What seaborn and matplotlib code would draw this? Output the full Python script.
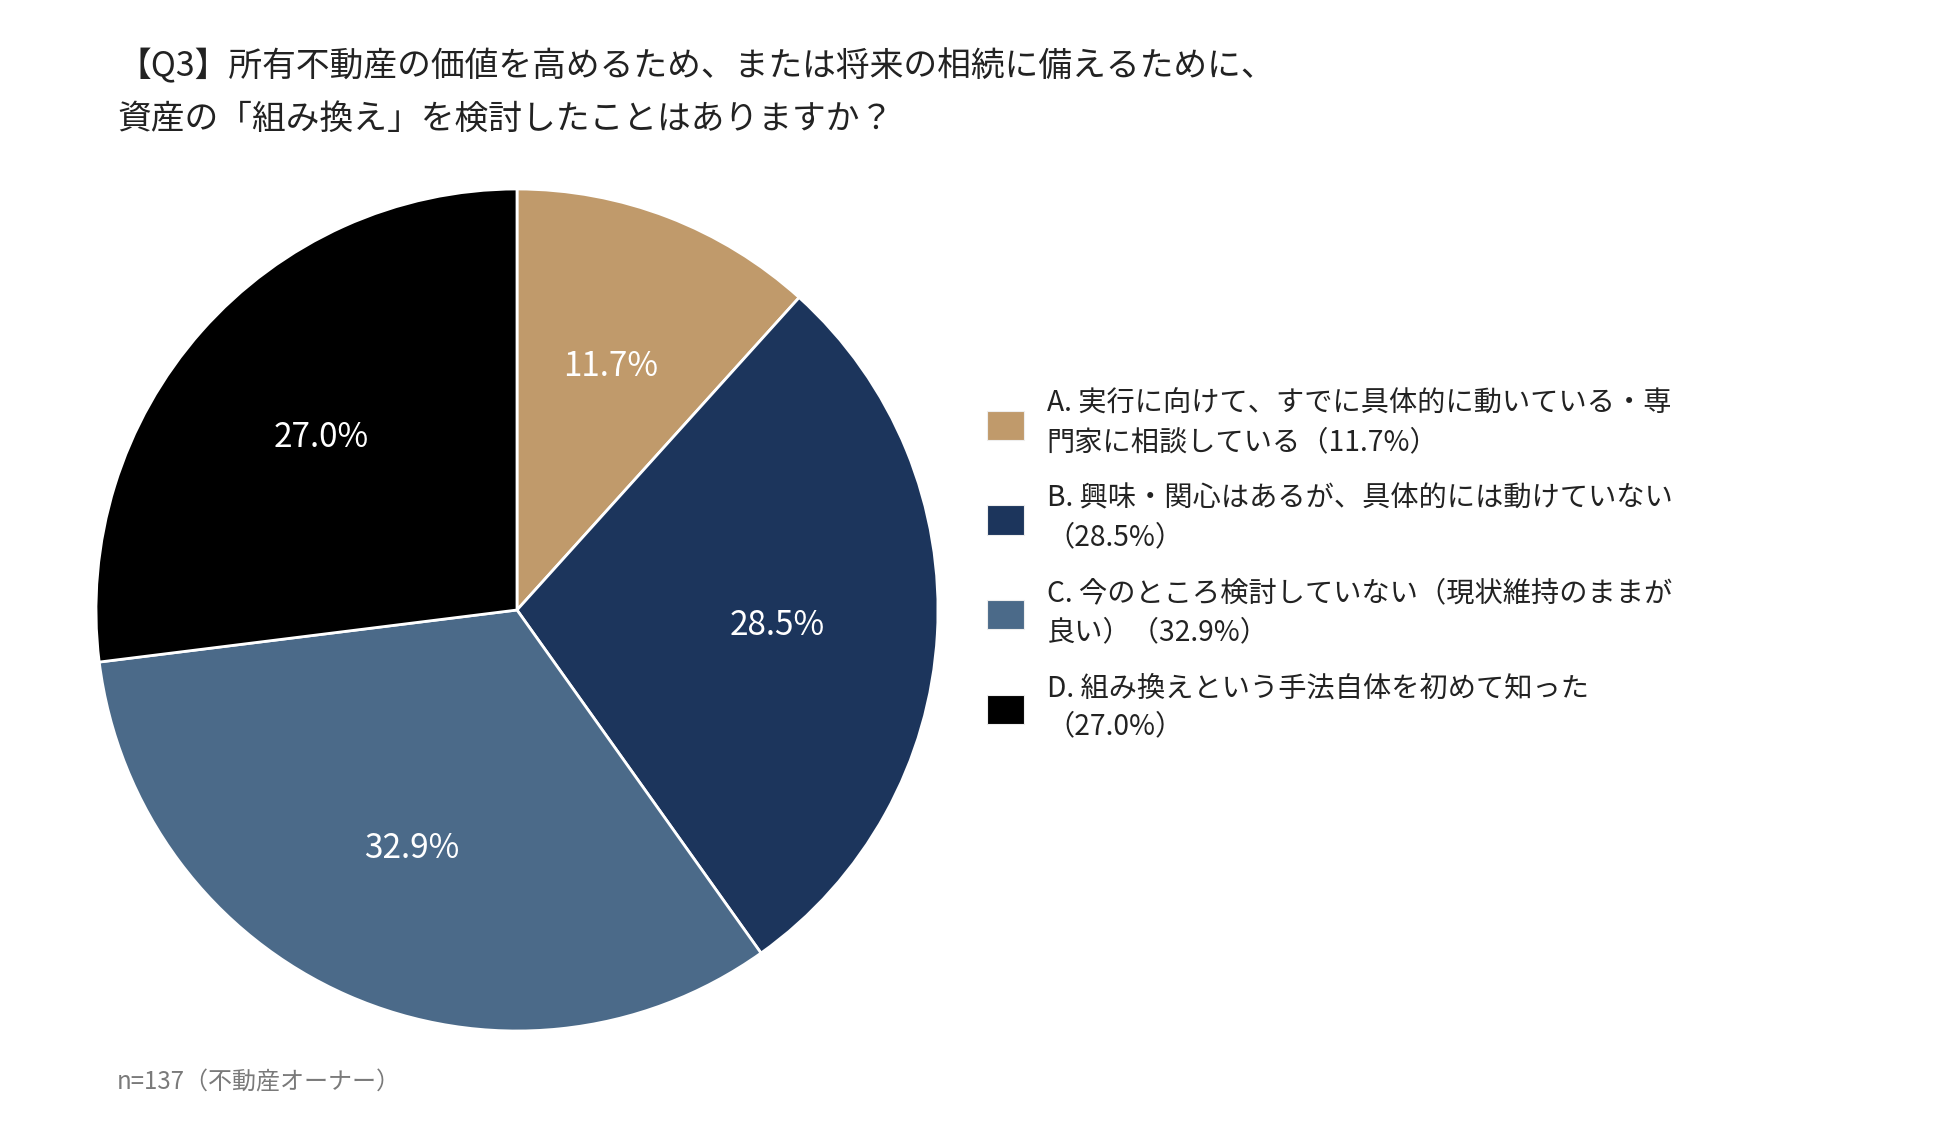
#!/usr/bin/env python3
"""Pie chart for Q3: asset restructuring among real estate owners."""

import matplotlib.pyplot as plt
import seaborn as sns

# Data
CATEGORIES = ["A. 実行に向けて、すでに具体的に動いている・専\n門家に相談している（11.7%）",
              "B. 興味・関心はあるが、具体的には動けていない\n（28.5%）",
              "C. 今のところ検討していない（現状維持のままが\n良い）（32.9%）",
              "D. 組み換えという手法自体を初めて知った\n（27.0%）"]
SHARES = [11.7, 28.5, 32.9, 27.0]
COLORS = ["#C09A6B", "#1C355C", "#4B6A89", "#000000"]

TITLE = ["【Q3】所有不動産の価値を高めるため、または将来の相続に備えるために、",
         "資産の「組み換え」を検討したことはありますか？"]
NOTE = "n=137（不動産オーナー）"

sns.set_theme(style="white")
plt.rcParams['font.family'] = ['Noto Sans CJK JP', 'DejaVu Sans']

W, H = 1950, 1123
fig = plt.figure(figsize=(W / 100, H / 100), dpi=100)
fig.patch.set_facecolor("white")

# Pie axes: centre and radius in pixels
cx, cy, r = 517, 610, 421
ax = fig.add_axes([(cx - r) / W, (H - cy - r) / H, 2 * r / W, 2 * r / H])
palette = sns.color_palette(COLORS)
wedges, _, autotexts = ax.pie(SHARES, colors=palette, startangle=90,
                              counterclock=False, autopct="%.1f%%",
                              pctdistance=0.62,
                              wedgeprops={"edgecolor": "white", "linewidth": 2},
                              textprops={"color": "white", "fontsize": 24})
ax.set(xlim=(-1, 1), ylim=(-1, 1), aspect="equal")
ax.axis("off")

# Title
fig.text(117 / W, 1 - 67 / H, TITLE[0], fontsize=24.3, color="#222222",
         ha="left", va="center")
fig.text(117 / W, 1 - 119 / H, TITLE[1], fontsize=24.3, color="#222222",
         ha="left", va="center")

# Legend
leg = fig.legend(wedges, CATEGORIES, loc="upper left",
                 bbox_to_anchor=(987 / W, 1 - 389 / H), frameon=False,
                 fontsize=20.3, handlelength=1.30, handleheight=1.21,
                 handletextpad=0.82, labelspacing=0.93, borderpad=0,
                 borderaxespad=0)
for t in leg.get_texts():
    t.set_linespacing(1.37)
    t.set_color("#222222")
for h in leg.legend_handles:
    h.set_linewidth(0.8)
    h.set_edgecolor("#eeeeee")

# Footnote
fig.text(117 / W, 1 - 1083 / H, NOTE, fontsize=17.3, color="#7a7a7a",
         ha="left", va="center")

fig.savefig("out.png", dpi=100, facecolor="white")
